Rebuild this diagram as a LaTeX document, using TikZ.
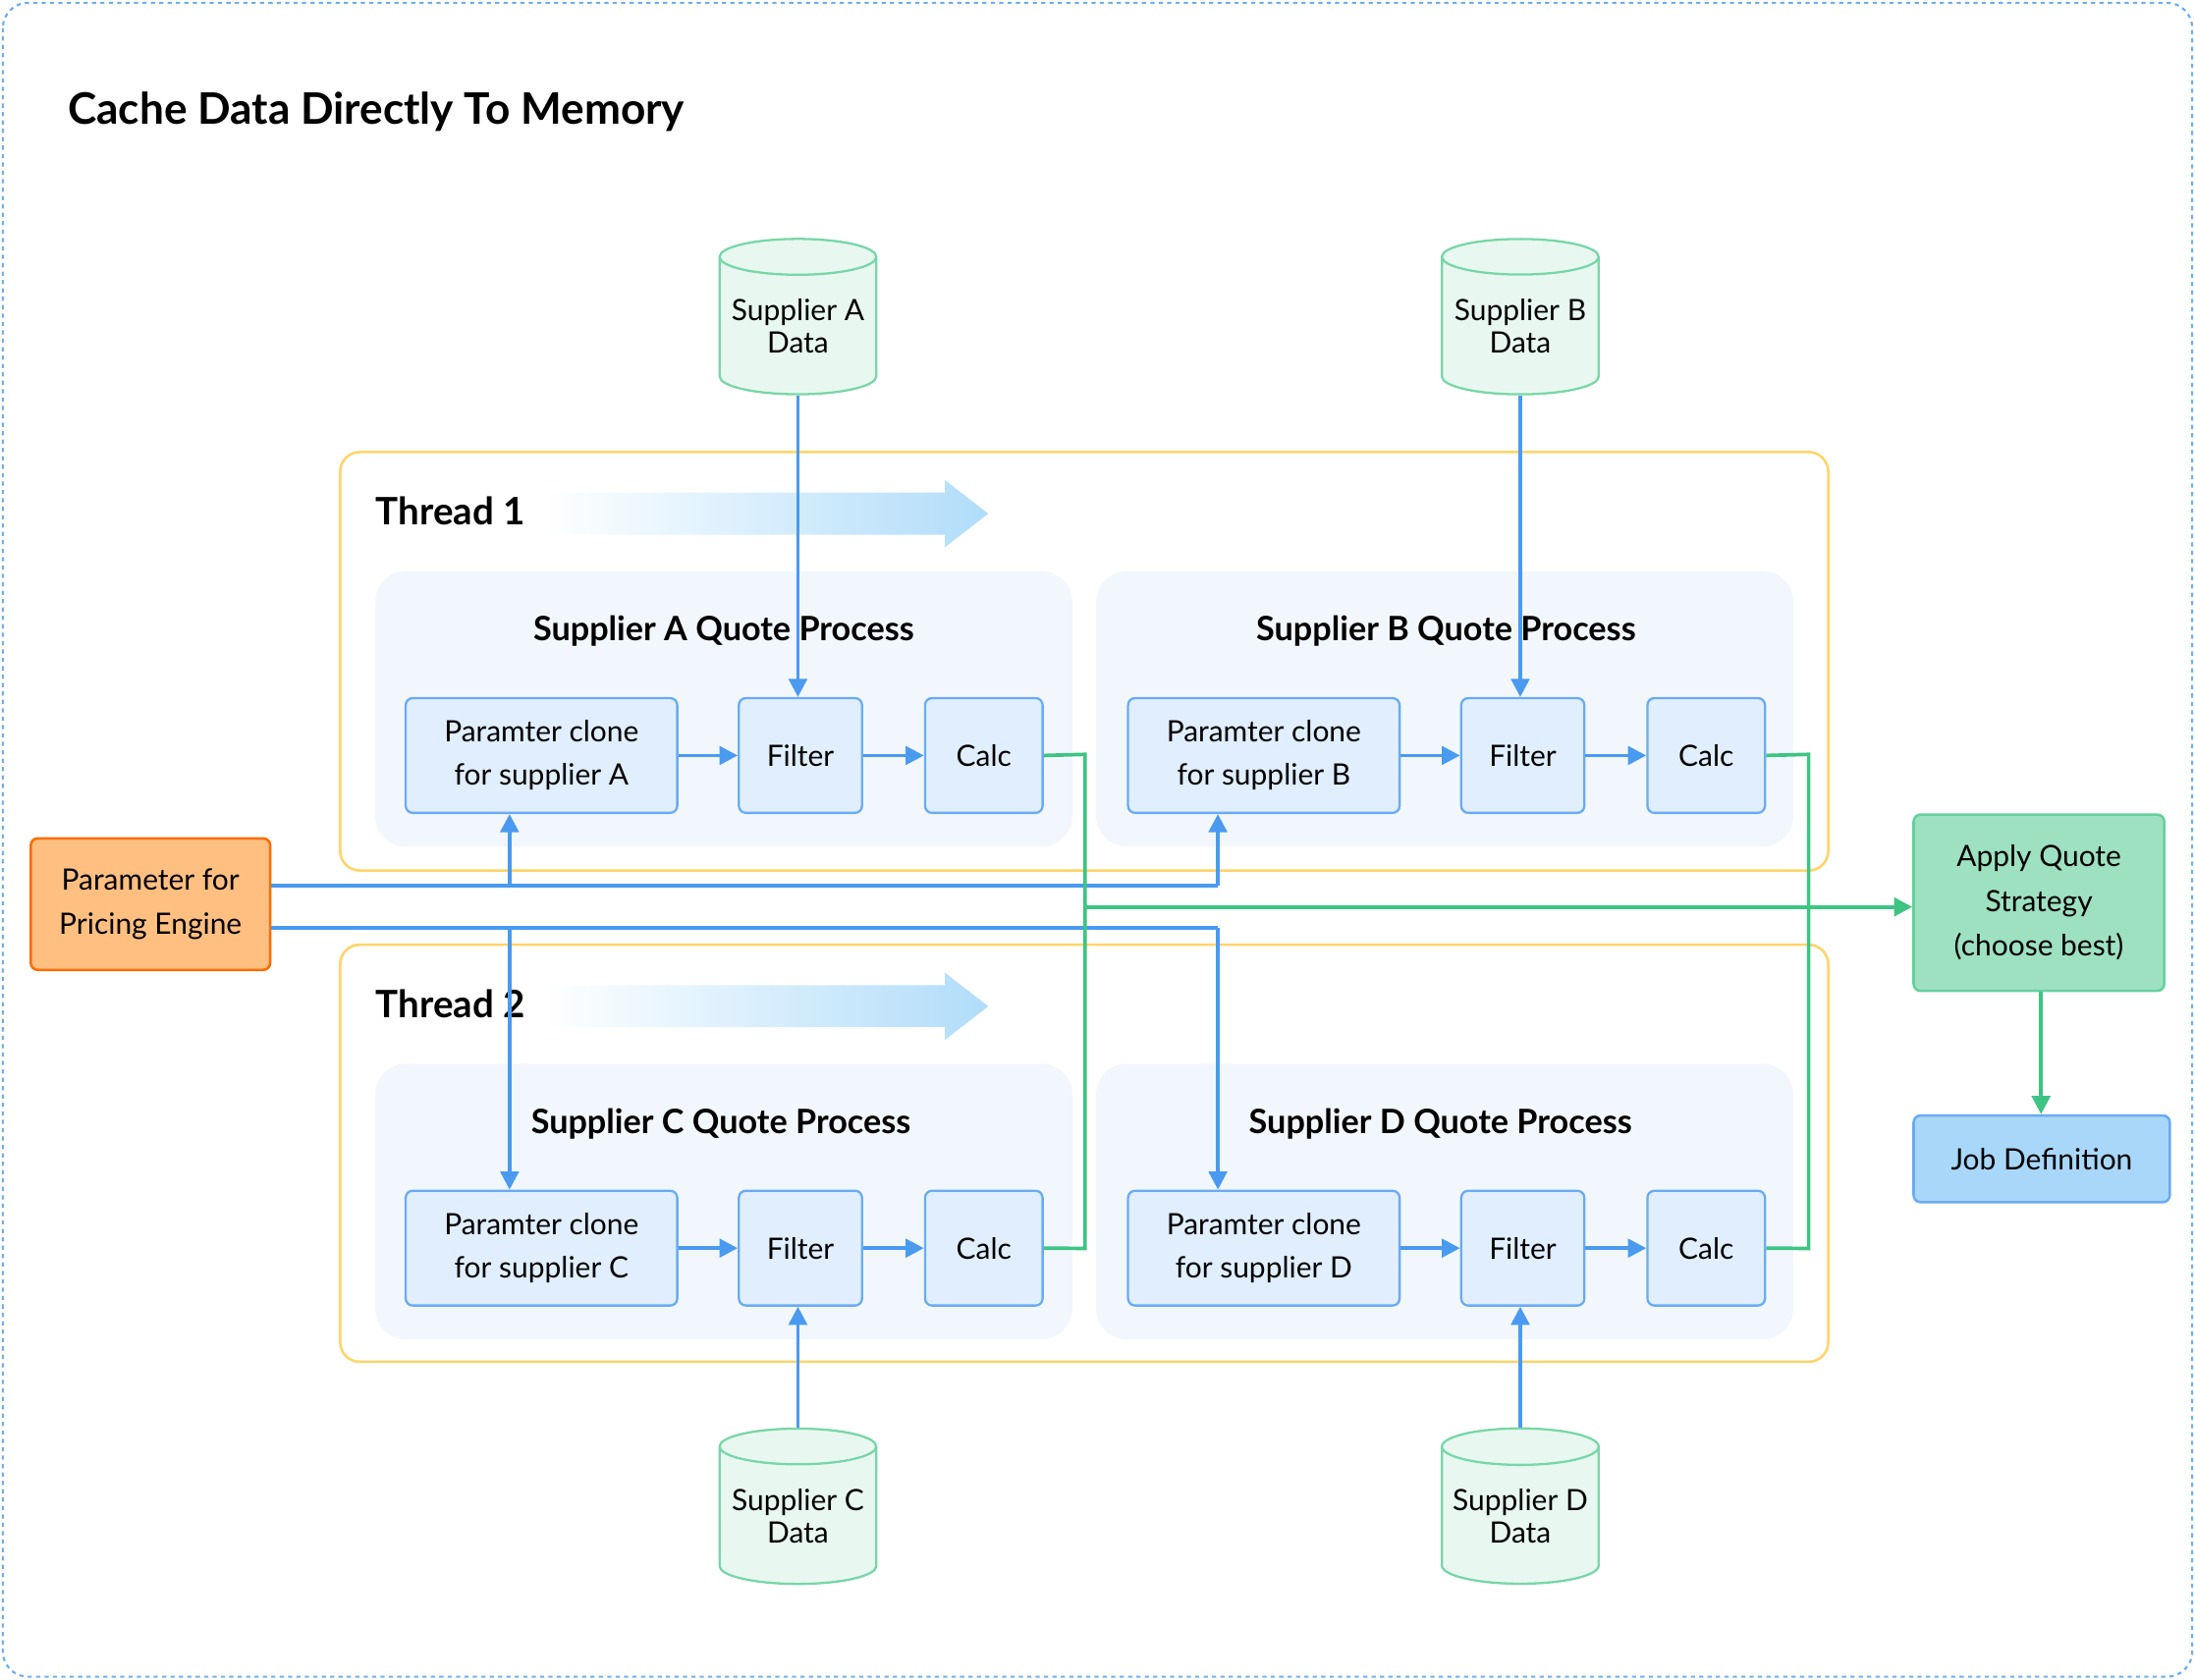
\documentclass[tikz,border=0pt]{standalone}
\usepackage{fontspec}
\setmainfont{Lato}
\usetikzlibrary{shapes.geometric,arrows.meta}
\definecolor{bl}{HTML}{4A9AF0}
\definecolor{gr}{HTML}{3EC483}
\definecolor{boxb}{HTML}{6AABF2}
\definecolor{boxf}{HTML}{E0EEFE}
\definecolor{procf}{HTML}{F2F7FE}
\definecolor{thr}{HTML}{FFD469}
\begin{document}
\begin{tikzpicture}[x=1pt,y=-1pt,
 box/.style={draw=boxb,fill=boxf,rounded corners=5,line width=1.6,font=\fontsize{21}{31}\selectfont,align=center,inner sep=0},
 proc/.style={fill=procf,rounded corners=22},
 thread/.style={draw=thr,rounded corners=14,line width=1.8},
 ptitle/.style={font=\bfseries\fontsize{24}{28}\selectfont},
 cyl/.style={cylinder,shape border rotate=90,draw=gr!70,fill=gr!12,cylinder uses custom fill,cylinder end fill=gr!22,cylinder body fill=gr!10,line width=1.6,minimum width=112,minimum height=111,aspect=0.27,font=\fontsize{21}{23}\selectfont,align=center,inner sep=0},
 ba/.style={draw=bl,line width=2.6,-{Triangle[length=13,width=13]}},
 bl/.style={draw=bl,line width=2.6},
 ga/.style={draw=gr,line width=2.6,-{Triangle[length=13,width=13]}},
 gl/.style={draw=gr,line width=2.6}]
\useasboundingbox (0,0) rectangle (1568,1200);
\draw[bl!80,dashed,line width=1.5,rounded corners=18] (2,2) rectangle (1566,1198);
\node[anchor=west,font=\bfseries\fontsize{31}{36}\selectfont] (title) at (45,80) {Cache Data Directly To Memory};
\draw[thread] (243,323) rectangle (1306,622);
\draw[thread] (243,675) rectangle (1306,973);
\foreach \x/\y in {268/408,783/408,268/760,783/760}{\fill[proc] (\x,\y) rectangle ++(498,197);}
\node[ptitle] (tA) at (517,451) {Supplier A Quote Process};
\node[ptitle] (tB) at (1033,451) {Supplier B Quote Process};
\node[ptitle] (tC) at (515,803) {Supplier C Quote Process};
\node[ptitle] (tD) at (1029,803) {Supplier D Quote Process};
\foreach \n/\y in {1/367,2/719}{
 \shade[left color=white,right color=blue!10!cyan!20!bl!40] (388,\y-15) -- (675,\y-15) -- (675,\y-24) -- (706,\y) -- (675,\y+24) -- (675,\y+15) -- (388,\y+15) -- cycle;
 \node[anchor=west,font=\bfseries\fontsize{27}{30}\selectfont] (th\n) at (265,\y-2) {Thread \n};}
\foreach \s/\X/\Y/\l in {A/289/498/A,B/805/498/B,C/289/850/C,D/805/850/D}{
 \node[box,minimum width=194,minimum height=82,anchor=north west] (p\s) at (\X,\Y) {Paramter clone\\ for supplier \l};
 \node[box,minimum width=88,minimum height=82,anchor=north west] (f\s) at (\X+238,\Y) {Filter};
 \node[box,minimum width=84,minimum height=82,anchor=north west] (c\s) at (\X+371,\Y) {Calc};
 \draw[ba] (p\s) -- (f\s); \draw[ba] (f\s) -- (c\s);}
\node[cyl] (dA) at (570,233) {Supplier A\\Data};
\node[cyl] (dB) at (1086,233) {Supplier B\\Data};
\node[cyl] (dC) at (570,1083) {Supplier C\\Data};
\node[cyl] (dD) at (1086,1083) {Supplier D\\Data};
\draw[ba] (dA.bottom) -- (dA.bottom |- fA.north);
\draw[ba] (dB.bottom) -- (dB.bottom |- fB.north);
\draw[ba] (dC.top) -- (dC.top |- fC.south);
\draw[ba] (dD.top) -- (dD.top |- fD.south);
\node[draw=orange!85!red,fill=orange!50,rounded corners=5,line width=1.8,minimum width=171,minimum height=94,font=\fontsize{21}{32}\selectfont,align=center,inner sep=0] (par) at (107.5,646) {Parameter for\\Pricing Engine};
\node[draw=gr!80,fill=gr!50,rounded corners=5,line width=1.8,minimum width=179,minimum height=126,font=\fontsize{21}{32}\selectfont,align=center,inner sep=0] (aq) at (1456.5,645) {Apply Quote\\Strategy\\(choose best)};
\node[draw=boxb,fill=blue!10!cyan!15!bl!45,rounded corners=5,line width=1.8,minimum width=183,minimum height=62,font=\fontsize{21}{24}\selectfont,inner sep=0] (job) at (1458.5,828) {Job Definition};
\coordinate (j1) at (364,633); \coordinate (j2) at (364,663);
\draw[bl] (par.east |- j1) -- (870,633);
\draw[ba] (870,633) -- (pB.south -| 870,0);
\draw[ba] (j1) -- (pA.south -| j1);
\draw[bl] (par.east |- j2) -- (870,663);
\draw[ba] (870,663) -- (pD.north -| 870,0);
\draw[ba] (j2) -- (pC.north -| j2);
\draw[gl] (cA.east) -- (775,539) -- (775,892) -- (cC.east);
\draw[gl] (cB.east) -- (1292,539) -- (1292,892) -- (cD.east);
\draw[ga] (775,648) -- (aq.west |- 0,648);
\draw[ga] (aq.south -| 1458,0) -- (job.north -| 1458,0);
\end{tikzpicture}
\end{document}
